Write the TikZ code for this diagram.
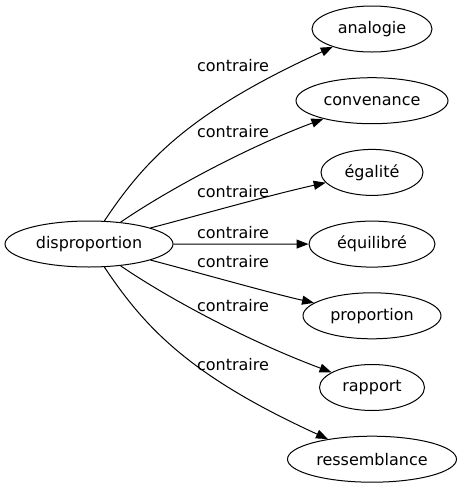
\documentclass[tikz,border=0pt]{standalone}
\usepackage{fontspec}
\setmainfont{DejaVu Sans}
\usetikzlibrary{shapes.geometric,arrows.meta}
\begin{document}
\begin{tikzpicture}[x=1pt,y=-1pt,line width=1pt,
	>={Triangle[length=12pt,width=9pt]},
	mot/.style={draw,ellipse,inner sep=0pt,minimum height=46pt,font=\fontsize{16}{19}\selectfont},
	lien/.style={font=\fontsize{16}{19}\selectfont}]
	\useasboundingbox (0,0) rectangle (461,491);
	\node[mot,minimum width=168pt] (disproportion) at (89,244) {disproportion};
	\foreach \n/\t/\w/\y in {analogie/analogie/120/29,convenance/convenance/152/100.7,egalite/égalité/102/172.4,equilibre/équilibré/126/244.1,proportion/proportion/138/315.8,rapport/rapport/105/387.5,ressemblance/ressemblance/169/459.2}
	{
		\node[mot,minimum width=\w pt] (\n) at (372,\y) {\t};
	}
	\draw[->] (disproportion) .. controls (145,160) and (190,112) .. (analogie);
	\draw[->] (disproportion) .. controls (160,195) and (240,150) .. (convenance);
	\draw[->] (disproportion) .. controls (200,215) and (270,195) .. (egalite);
	\draw[->] (disproportion) -- (equilibre);
	\draw[->] (disproportion) .. controls (200,273) and (270,293) .. (proportion);
	\draw[->] (disproportion) .. controls (160,293) and (240,338) .. (rapport);
	\draw[->] (disproportion) .. controls (145,328) and (190,376) .. (ressemblance);
	\foreach \i/\y in {1/66,2/132,3/192,4/233,5/262,6/306,7/365}
	{
		\node[lien] (l\i) at (233,\y) {contraire};
	}
\end{tikzpicture}
\end{document}
